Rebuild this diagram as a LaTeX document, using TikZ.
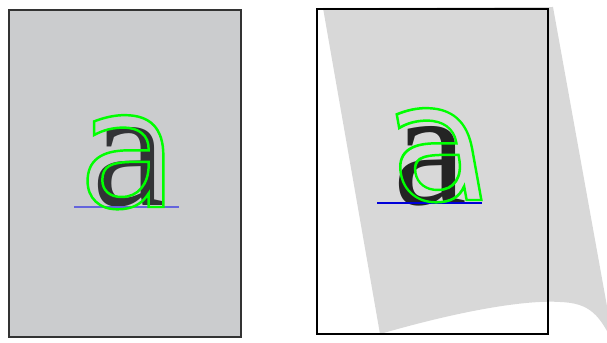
\documentclass[tikz,border=0pt]{standalone}
\usepackage{fontspec}
\newfontfamily\glyphsans{DejaVu Sans}
\newfontfamily\glyphserif{Liberation Serif}
\definecolor{pagegray}{RGB}{203,204,206}
\definecolor{sheetgray}{RGB}{216,216,216}
\definecolor{inkdark}{RGB}{50,51,54}
\definecolor{baseblue}{RGB}{100,100,220}
\newcommand{\outlined}[1]{\special{pdf:literal direct 1 Tr 2.1 w}#1\special{pdf:literal direct 0 Tr}}

\begin{document}
\begin{tikzpicture}[x=0.03cm,y=-0.03cm,
  page/.style={draw=black!80,line width=1.6pt,fill=pagegray},
  frame/.style={draw=black,line width=2pt},
  serifa/.style={inner sep=0pt,anchor=base,font=\fontsize{142}{142}\selectfont\glyphserif},
  sansa/.style={inner sep=0pt,anchor=base,text=green,font=\fontsize{140}{140}\selectfont\glyphsans}]
  \useasboundingbox (0,0) rectangle (607,343);
  % left: flat page
  \node[page,minimum width=6.96cm,minimum height=9.81cm,anchor=north west] (P) at (8,9) {};
  \node[serifa,text=inkdark] (sa) at (129,206) {a};
  \coordinate (bl0) at (74,207);
  \coordinate (bl1) at (179,207);
  \draw[baseblue,line width=1.3pt] (bl0) -- (bl1);
  % right: warped sheet
  \begin{scope}
    \clip (0,0) rectangle (607,343);
    \fill[sheetgray] (323,8) -- (553,7) -- (614,345)
      .. controls (600,315) and (590,303) .. (560,302)
      .. controls (530,300) and (470,308) .. (380,334) -- cycle;
  \end{scope}
  \node[frame,minimum width=6.93cm,minimum height=9.75cm,anchor=north west] (F) at (316,8) {};
  \node[serifa,text=black!86] (sb) at (430,205) {a};
  \coordinate (br0) at (377,203);
  \coordinate (br1) at (482,203);
  \draw[blue!85!black,line width=0.9pt] (br0) -- (br1);
  % outlines on top
  \node[sansa] (ga) at (128,207) {\outlined{a}};
  \begin{scope}[shift={(446,200)},xslant=-0.18]
    \node[sansa,transform shape] (gb) at (0,0) {\outlined{a}};
  \end{scope}
\end{tikzpicture}
\end{document}
